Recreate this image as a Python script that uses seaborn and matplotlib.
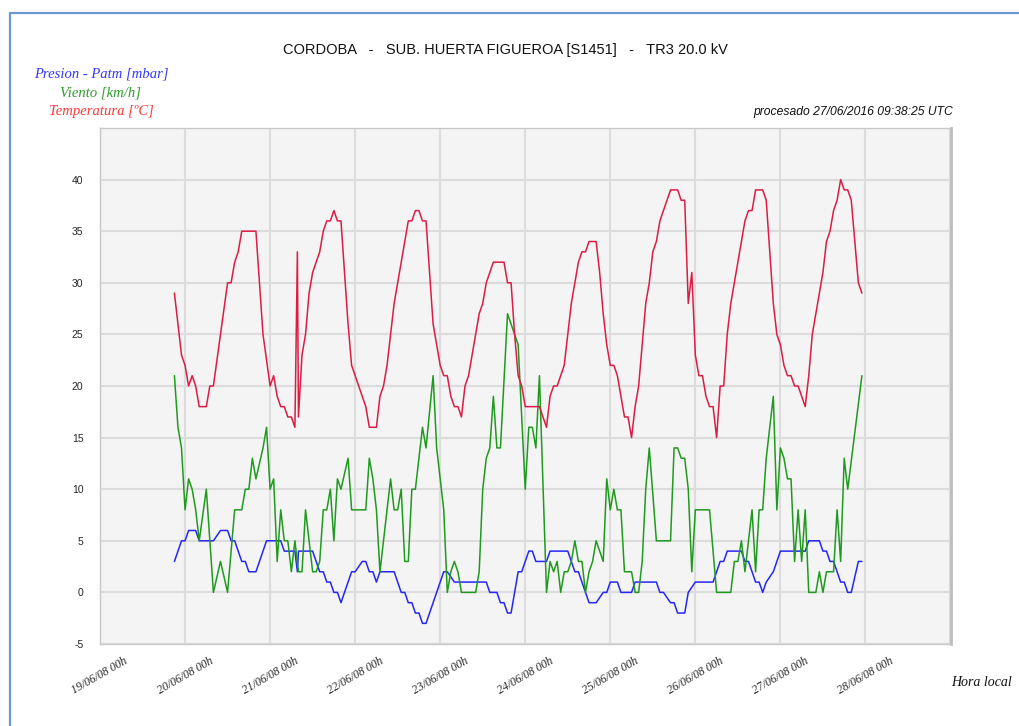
import numpy as np
import pandas as pd
import matplotlib
matplotlib.use("Agg")
import matplotlib.pyplot as plt
import seaborn as sns
from matplotlib.lines import Line2D

# ---------------- data (hours since 19/06/08 00h) ----------------
temp_t = [21, 23, 24, 25, 26, 27, 28, 30, 31, 32, 36, 37, 38, 39, 40, 44, 46, 48, 49, 50,
          51, 52, 53, 54, 55, 55.7, 56, 57, 58, 59, 60, 61, 62, 63, 64, 65, 66, 67, 68, 70,
          71, 72, 73, 74, 75, 76, 78, 79, 80, 81, 82, 83, 84, 85, 86, 87, 88, 89, 90, 91,
          92, 93, 94, 95, 96, 97, 98, 99, 100, 101, 102, 103, 104, 105, 106, 107, 108, 109, 110, 111,
          114, 115, 116, 117, 118, 119, 120, 124, 125, 126, 127, 128, 129, 130, 131, 132, 133, 134, 135, 136,
          137, 138, 140, 141, 142, 143, 144, 145, 146, 147, 148, 149, 150, 151, 152, 153, 154, 155, 156, 157,
          158, 159, 160, 161, 163, 164, 165, 166, 167, 168, 169, 170, 171, 172, 173, 174, 175, 176, 177, 178,
          179, 180, 181, 182, 183, 184, 185, 187, 188, 189, 190, 191, 192, 193, 194, 195, 196, 197, 198, 199,
          200, 201, 202, 203, 204, 205, 206, 207, 208, 209, 210, 211, 212, 213, 214, 215]
temp_v = [29, 23, 22, 20, 21, 20, 18, 18, 20, 20, 30, 30, 32, 33, 35, 35, 25, 20, 21, 19,
          18, 18, 17, 17, 16, 33, 17, 23, 25, 29, 31, 32, 33, 35, 36, 36, 37, 36, 36, 26,
          22, 21, 20, 19, 18, 16, 16, 19, 20, 22, 25, 28, 30, 32, 34, 36, 36, 37, 37, 36,
          36, 31, 26, 24, 22, 21, 21, 19, 18, 18, 17, 20, 21, 23, 25, 27, 28, 30, 31, 32,
          32, 30, 30, 25, 21, 20, 18, 18, 17, 16, 19, 20, 20, 21, 22, 25, 28, 30, 32, 33,
          33, 34, 34, 31, 27, 24, 22, 22, 21, 19, 17, 17, 15, 18, 20, 24, 28, 30, 33, 34,
          36, 37, 38, 39, 39, 38, 38, 28, 31, 23, 21, 21, 19, 18, 18, 15, 20, 20, 25, 28,
          30, 32, 34, 36, 37, 37, 39, 39, 38, 33, 28, 25, 24, 22, 21, 21, 20, 20, 19, 18,
          21, 25, 27, 29, 31, 34, 35, 37, 38, 40, 39, 39, 38, 34, 30, 29]

wind_t = [21, 22, 23, 24, 25, 26, 27, 28, 30, 32, 34, 36, 38, 40, 41, 42, 43, 44, 46, 47,
          48, 49, 50, 51, 52, 53, 54, 55, 56, 57, 58, 60, 61, 62, 63, 64, 65, 66, 67, 68,
          70, 71, 75, 76, 77, 78, 79, 80, 81, 82, 83, 84, 85, 86, 87, 88, 89, 91, 92, 94,
          95, 97, 98, 99, 100, 101, 102, 106, 107, 108, 109, 110, 111, 112, 113, 115, 117, 118, 120, 121,
          122, 123, 124, 126, 127, 128, 129, 130, 131, 132, 133, 134, 135, 136, 137, 138, 139, 140, 142, 143,
          144, 145, 146, 147, 148, 150, 151, 152, 153, 154, 155, 157, 161, 162, 163, 164, 165, 166, 167, 168,
          172, 174, 178, 179, 180, 181, 182, 184, 185, 186, 187, 188, 190, 191, 192, 193, 194, 195, 196, 197,
          198, 199, 200, 202, 203, 204, 205, 207, 208, 209, 210, 211, 215]
wind_v = [21, 16, 14, 8, 11, 10, 8, 5, 10, 0, 3, 0, 8, 8, 10, 10, 13, 11, 14, 16,
          10, 11, 3, 8, 5, 5, 2, 5, 2, 2, 8, 2, 2, 3, 8, 8, 10, 5, 11, 10,
          13, 8, 8, 13, 11, 8, 2, 5, 8, 11, 8, 8, 10, 3, 3, 10, 10, 16, 14, 21,
          14, 8, 0, 2, 3, 2, 0, 0, 2, 10, 13, 14, 19, 14, 14, 27, 25, 24, 10, 16,
          16, 14, 21, 0, 3, 2, 3, 0, 2, 2, 3, 5, 3, 3, 0, 2, 3, 5, 3, 11,
          8, 10, 8, 8, 2, 2, 0, 0, 3, 10, 14, 5, 5, 14, 14, 13, 13, 10, 2, 8,
          8, 0, 0, 3, 3, 5, 2, 8, 2, 8, 8, 13, 19, 8, 14, 13, 11, 11, 3, 8,
          3, 8, 0, 0, 2, 0, 2, 2, 8, 3, 13, 10, 21]

pres_t = [21, 23, 24, 25, 27, 28, 32, 34, 36, 37, 38, 40, 41, 42, 44, 47, 51, 52, 55, 55.7,
          56, 60, 62, 63, 64, 65, 66, 67, 68, 71, 72, 74, 75, 76, 77, 78, 79, 83, 85, 86,
          87, 88, 89, 90, 91, 92, 97, 98, 100, 109, 110, 112, 113, 114, 115, 116, 118, 119, 121, 122,
          123, 126, 127, 132, 134, 135, 138, 140, 142, 143, 144, 146, 147, 150, 151, 157, 158, 159, 161, 162,
          163, 165, 166, 168, 173, 174, 175, 176, 177, 181, 182, 183, 185, 186, 187, 188, 190, 192, 199, 200,
          203, 204, 205, 206, 207, 208, 209, 210, 211, 212, 214, 215]
pres_v = [3, 5, 5, 6, 6, 5, 5, 6, 6, 5, 5, 3, 3, 2, 2, 5, 5, 4, 4, 2,
          4, 4, 2, 2, 1, 1, 0, 0, -1, 2, 2, 3, 3, 2, 2, 1, 2, 2, 0, 0,
          -1, -1, -2, -2, -3, -3, 2, 2, 1, 1, 0, 0, -1, -1, -2, -2, 2, 2, 4, 4,
          3, 3, 4, 4, 2, 2, -1, -1, 0, 0, 1, 1, 0, 0, 1, 1, 0, 0, -1, -1,
          -2, -2, 0, 1, 1, 2, 3, 3, 4, 4, 3, 3, 1, 1, 0, 1, 2, 4, 4, 5,
          5, 4, 4, 3, 3, 2, 1, 1, 0, 0, 3, 3]

x_tick_labels = ["19/06/08 00h", "20/06/08 00h", "21/06/08 00h", "22/06/08 00h",
                 "23/06/08 00h", "24/06/08 00h", "25/06/08 00h", "26/06/08 00h",
                 "27/06/08 00h", "28/06/08 00h"]
y_ticks = [-5, 0, 5, 10, 15, 20, 25, 30, 35, 40]
series_names = ["Presion - Patm [mbar]", "Viento [km/h]", "Temperatura [ºC]"]

# ---------------- styling ----------------
sns.set_theme(style="white")
plt.rcParams["font.family"] = ["Liberation Sans", "DejaVu Sans"]

W, H = 1019, 726
fig = plt.figure(figsize=(W / 100, H / 100), dpi=100)
ax = fig.add_axes([100 / W, (H - 644) / H, 850.5 / W, 516 / H])
ax.set_facecolor("#f4f4f4")

df = pd.concat([
    pd.DataFrame({"t": pres_t, "v": pres_v, "serie": series_names[0]}),
    pd.DataFrame({"t": wind_t, "v": wind_v, "serie": series_names[1]}),
    pd.DataFrame({"t": temp_t, "v": temp_v, "serie": series_names[2]}),
])
line_colors = {series_names[0]: "#2626f5", series_names[1]: "#1f9a1f", series_names[2]: "#dc1c44"}
sns.lineplot(data=df, x="t", y="v", hue="serie", palette=line_colors, ax=ax,
             legend=False, linewidth=1.1, estimator=None, sort=False)

ax.set_xlim(0, 240)
ax.set_ylim(-5, 45)
ax.set_xticks(np.arange(len(x_tick_labels)) * 24)
ax.set_xticklabels(x_tick_labels, rotation=30, ha="center", fontsize=8.5,
                   family=["Liberation Serif", "DejaVu Serif"], style="italic")
ax.set_yticks(y_ticks)
ax.set_yticklabels([str(v) for v in y_ticks], fontsize=7.5)
ax.tick_params(axis="both", length=0)
ax.tick_params(axis="y", pad=12)
ax.tick_params(axis="x", pad=8)
ax.set_xlabel("")
ax.set_ylabel("")
# day grid lines (including 29/06 edge) and horizontal grid
for xv in range(0, 241, 24):
    ax.axvline(xv, color="#dcdcdc", lw=1.5, zorder=0)
for yv in y_ticks:
    ax.axhline(yv, color="#dcdcdc", lw=1.5, zorder=0)
for s in ax.spines.values():
    s.set_color("#c8c8c8")
    s.set_linewidth(1.0)
ax.spines["right"].set_linewidth(2.0)
ax.spines["right"].set_color("#bdbdbd")

# titles and labels
fig.text(505 / W, 1 - 50 / H,
         "CORDOBA   -   SUB. HUERTA FIGUEROA [S1451]   -   TR3 20.0 kV",
         ha="center", va="center", fontsize=10.5, color="#111111")
legend_colors = ["#3535ff", "#2f9a2f", "#ff3838"]
for i, (name, col) in enumerate(zip(series_names, legend_colors)):
    fig.text(101 / W, 1 - (74 + 19 * i) / H, name, ha="center", va="center",
             fontsize=10.5, color=col, style="italic",
             family=["Liberation Serif", "DejaVu Serif"])
fig.text(953 / W, 1 - 112 / H, "procesado 27/06/2016 09:38:25 UTC",
         ha="right", va="center", fontsize=8.7, style="italic", color="#111111")
fig.text(1012 / W, 1 - 682 / H, "Hora local", ha="right", va="center",
         fontsize=10, style="italic", family=["Liberation Serif", "DejaVu Serif"],
         color="#111111")

# page border (blue)
fig.add_artist(Line2D([9.5 / W, 1.0], [1 - 12.5 / H, 1 - 12.5 / H],
                      transform=fig.transFigure, color="#6e96d2", lw=1.6))
fig.add_artist(Line2D([9.5 / W, 9.5 / W], [0, 1 - 12.5 / H],
                      transform=fig.transFigure, color="#6e96d2", lw=1.6))

fig.savefig("out.png", dpi=100, facecolor="white")
